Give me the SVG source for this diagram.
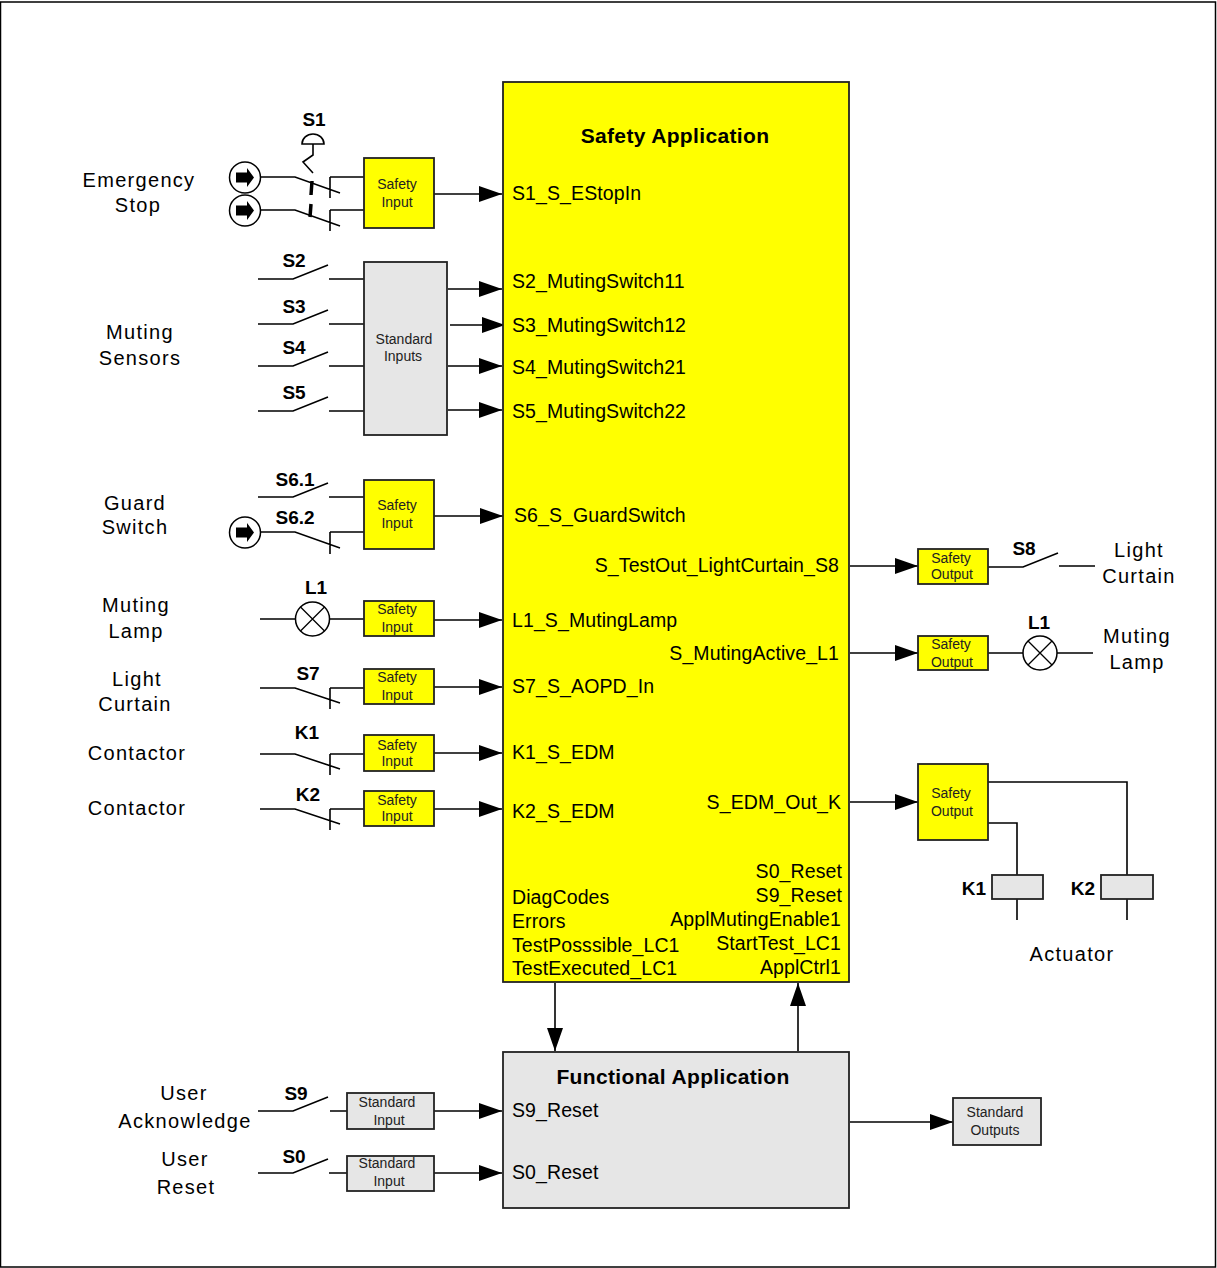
<svg xmlns="http://www.w3.org/2000/svg" width="1217" height="1268" viewBox="0 0 1217 1268">
<defs>
<marker id="arr" markerUnits="userSpaceOnUse" markerWidth="24" markerHeight="16" refX="23" refY="8" orient="auto"><path d="M0,0 L23,8 L0,16 Z" fill="#000"/></marker>
<g id="estop"><circle cx="0" cy="0" r="15.5" fill="#fff" stroke="#000" stroke-width="1.5"/><path d="M-9,-5 H2 V-9.500 L9,0 L2,9.500 V5 H-9 Z" fill="#000"/></g>
<g id="lamp"><circle cx="0" cy="0" r="17" fill="#fff" stroke="#000" stroke-width="1.5"/><path d="M-12,-12 L12,12 M-12,12 L12,-12" stroke="#000" stroke-width="1.300" fill="none"/></g>
</defs>
<style>
text{font-family:"Liberation Sans",Arial,sans-serif;fill:#000}
.t{font-size:20px;letter-spacing:1.300px}
.p{font-size:19.500px;letter-spacing:0.100px}
.b{font-size:19px;font-weight:700}
.s{font-size:14px;fill:#222}
.h{font-size:21px;font-weight:700;letter-spacing:0.350px}
.m{text-anchor:middle}
.e{text-anchor:end}
.ln{fill:none;stroke:#000;stroke-width:1.600}
.ar{fill:none;stroke:#000;stroke-width:1.600;marker-end:url(#arr)}
.y{fill:#ff0;stroke:#222;stroke-width:1.800}
.g{fill:#e6e6e6;stroke:#222;stroke-width:1.800}
</style>
<rect x="0.500" y="2" width="1215" height="1265" fill="#fff" stroke="#000" stroke-width="1.500"/>

<g id="connectors">
<path class="ar" d="M434,194 H502"/>
<path class="ar" d="M448,289 H502"/>
<path class="ar" d="M450,325 H505"/>
<path class="ar" d="M448,366 H502"/>
<path class="ar" d="M448,410 H502"/>
<path class="ar" d="M434,516 H503"/>
<path class="ar" d="M434,620 H502"/>
<path class="ar" d="M434,687 H502"/>
<path class="ar" d="M434,753 H502"/>
<path class="ar" d="M434,809 H502"/>
<path class="ar" d="M850,566 H918"/>
<path class="ar" d="M850,653 H918"/>
<path class="ar" d="M850,802 H918"/>
<path class="ar" d="M555,983 V1051"/>
<path class="ar" d="M798,1051 V983"/>
<path class="ar" d="M434,1111 H502"/>
<path class="ar" d="M434,1173 H502"/>
<path class="ar" d="M850,1122 H953"/>
<path class="ln" d="M260,177 H295 L340,193 M260,210 H295 L340,226 M330,177 V198 M330,177 H364 M330,210 V231 M330,210 H364"/>
<path d="M312,181 L311,195 M311,204 L310,217" stroke="#000" stroke-width="3.500" fill="none"/>
<path class="ln" d="M302,144 A11,10 0 0 1 324,144 Z M313,144 V155 L303,162 L313,173"/>
<path class="ln" d="M258,279 H293 L328,265 M329,279 H364 M258,324 H293 L328,310 M329,324 H364 M258,366 H293 L328,352 M329,366 H364 M258,411 H293 L328,397 M329,411 H364"/>
<path class="ln" d="M258,497 H293 L328,483 M329,497 H364 M260,532 H295 L340,548 M330,532 V554 M330,532 H364"/>
<path class="ln" d="M260,619 H296 M330,619 H364"/>
<path class="ln" d="M260,688 H295 L340,703 M330,688 V709 M330,688 H364"/>
<path class="ln" d="M260,754 H295 L340,769 M330,754 V775 M330,754 H364"/>
<path class="ln" d="M260,809 H295 L340,824 M330,809 V830 M330,809 H364"/>
<path class="ln" d="M988,567 H1023 L1058,553 M1059,566 H1095"/>
<path class="ln" d="M988,653 H1023 M1057,653 H1093"/>
<path class="ln" d="M988,782 H1127 V875 M988,823 H1017 V875 M1017,899 V920 M1127,899 V920"/>
<path class="ln" d="M258,1111 H293 L328,1097 M330,1111 H347 M258,1173 H293 L328,1159 M329,1173 H347"/>
</g>

<g id="safety-app"><rect class="y" x="503" y="82" width="346" height="900"/>
<text class="h m" x="675" y="143">Safety Application</text>
<text class="p" x="512" y="200">S1_S_EStopIn</text>
<text class="p" x="512" y="288">S2_MutingSwitch11</text>
<text class="p" x="512" y="332">S3_MutingSwitch12</text>
<text class="p" x="512" y="374">S4_MutingSwitch21</text>
<text class="p" x="512" y="418">S5_MutingSwitch22</text>
<text class="p" x="514" y="522">S6_S_GuardSwitch</text>
<text class="p" x="512" y="627">L1_S_MutingLamp</text>
<text class="p" x="512" y="693">S7_S_AOPD_In</text>
<text class="p" x="512" y="759">K1_S_EDM</text>
<text class="p" x="512" y="818">K2_S_EDM</text>
<text class="p e" x="839" y="572">S_TestOut_LightCurtain_S8</text>
<text class="p e" x="839" y="660">S_MutingActive_L1</text>
<text class="p e" x="841" y="809">S_EDM_Out_K</text>
<text class="p e" x="842" y="878">S0_Reset</text>
<text class="p e" x="842" y="902">S9_Reset</text>
<text class="p e" x="841" y="926">ApplMutingEnable1</text>
<text class="p e" x="841" y="950">StartTest_LC1</text>
<text class="p e" x="841" y="974">ApplCtrl1</text>
<text class="p" x="512" y="904">DiagCodes</text>
<text class="p" x="512" y="928">Errors</text>
<text class="p" x="512" y="952">TestPosssible_LC1</text>
<text class="p" x="512" y="975">TestExecuted_LC1</text>
</g>

<g id="functional-app"><rect class="g" x="503" y="1052" width="346" height="156"/>
<text class="h m" x="673" y="1084">Functional Application</text>
<text class="p" x="512" y="1117">S9_Reset</text>
<text class="p" x="512" y="1179">S0_Reset</text>
</g>

<g id="in-s1"><rect class="y" x="364" y="158" width="70" height="70"/><text class="s m" x="397" y="189">Safety</text><text class="s m" x="397" y="207">Input</text></g>
<g id="in-std"><rect class="g" x="364" y="262" width="83" height="173"/><text class="s m" x="404" y="344">Standard</text><text class="s m" x="403" y="361">Inputs</text></g>
<g id="in-s6"><rect class="y" x="364" y="480" width="70" height="69"/><text class="s m" x="397" y="510">Safety</text><text class="s m" x="397" y="528">Input</text></g>
<g id="in-l1"><rect class="y" x="364" y="601" width="70" height="35"/><text class="s m" x="397" y="614">Safety</text><text class="s m" x="397" y="632">Input</text></g>
<g id="in-s7"><rect class="y" x="364" y="669" width="70" height="35"/><text class="s m" x="397" y="682">Safety</text><text class="s m" x="397" y="700">Input</text></g>
<g id="in-k1"><rect class="y" x="364" y="735" width="70" height="36"/><text class="s m" x="397" y="750">Safety</text><text class="s m" x="397" y="766">Input</text></g>
<g id="in-k2"><rect class="y" x="364" y="791" width="70" height="35"/><text class="s m" x="397" y="805">Safety</text><text class="s m" x="397" y="821">Input</text></g>
<g id="out-s8"><rect class="y" x="918" y="549" width="70" height="35"/><text class="s m" x="951" y="563">Safety</text><text class="s m" x="952" y="579">Output</text></g>
<g id="out-l1"><rect class="y" x="918" y="636" width="70" height="34"/><text class="s m" x="951" y="649">Safety</text><text class="s m" x="952" y="667">Output</text></g>
<g id="out-k"><rect class="y" x="918" y="764" width="70" height="76"/><text class="s m" x="951" y="798">Safety</text><text class="s m" x="952" y="816">Output</text></g>
<g id="in-s9"><rect class="g" x="347" y="1093" width="87" height="36"/><text class="s m" x="387" y="1107">Standard</text><text class="s m" x="389" y="1125">Input</text></g>
<g id="in-s0"><rect class="g" x="347" y="1156" width="87" height="35"/><text class="s m" x="387" y="1168">Standard</text><text class="s m" x="389" y="1186">Input</text></g>
<g id="std-out"><rect class="g" x="953" y="1098" width="88" height="47"/><text class="s m" x="995" y="1117">Standard</text><text class="s m" x="995" y="1135">Outputs</text></g>
<g id="coil-k1"><rect class="g" x="992" y="875" width="51" height="24"/><text class="b e" x="986" y="895">K1</text></g>
<g id="coil-k2"><rect class="g" x="1101" y="875" width="52" height="24"/><text class="b e" x="1095" y="895">K2</text></g>

<g id="estop-1"><use href="#estop" x="245" y="177.500"/></g>
<g id="estop-2"><use href="#estop" x="245" y="210.500"/></g>
<g id="estop-3"><use href="#estop" x="245" y="532.500"/></g>
<g id="lamp-in"><use href="#lamp" x="312.500" y="619"/></g>
<g id="lamp-out"><use href="#lamp" x="1040" y="653"/></g>

<g id="tags">
<text class="b m" x="314" y="126">S1</text>
<text class="b m" x="294" y="267">S2</text>
<text class="b m" x="294" y="313">S3</text>
<text class="b m" x="294" y="354">S4</text>
<text class="b m" x="294" y="399">S5</text>
<text class="b m" x="295" y="486">S6.1</text>
<text class="b m" x="295" y="524">S6.2</text>
<text class="b m" x="316" y="594">L1</text>
<text class="b m" x="308" y="680">S7</text>
<text class="b m" x="307" y="739">K1</text>
<text class="b m" x="308" y="801">K2</text>
<text class="b m" x="1024" y="555">S8</text>
<text class="b m" x="1039" y="629">L1</text>
<text class="b m" x="296" y="1100">S9</text>
<text class="b m" x="294" y="1163">S0</text>
</g>
<g id="labels">
<text class="t m" x="139" y="187">Emergency</text>
<text class="t m" x="138" y="212">Stop</text>
<text class="t m" x="140" y="339">Muting</text>
<text class="t m" x="140" y="365">Sensors</text>
<text class="t m" x="135" y="510">Guard</text>
<text class="t m" x="135" y="534">Switch</text>
<text class="t m" x="136" y="612">Muting</text>
<text class="t m" x="136" y="638">Lamp</text>
<text class="t m" x="137" y="686">Light</text>
<text class="t m" x="135" y="711">Curtain</text>
<text class="t m" x="137" y="760">Contactor</text>
<text class="t m" x="137" y="815">Contactor</text>
<text class="t m" x="1139" y="557">Light</text>
<text class="t m" x="1139" y="583">Curtain</text>
<text class="t m" x="1137" y="643">Muting</text>
<text class="t m" x="1137" y="669">Lamp</text>
<text class="t m" x="1072" y="961">Actuator</text>
<text class="t m" x="184" y="1100">User</text>
<text class="t m" x="185" y="1128">Acknowledge</text>
<text class="t m" x="185" y="1166">User</text>
<text class="t m" x="186" y="1194">Reset</text>
</g>
</svg>
